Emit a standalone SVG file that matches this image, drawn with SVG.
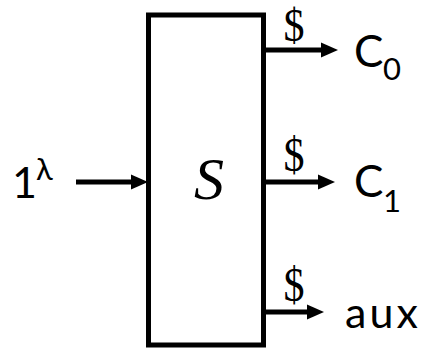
<svg xmlns="http://www.w3.org/2000/svg" width="426" height="349" viewBox="0 0 426 349">
<defs>
<style>
.lbl{font-family:Lato,"Noto Sans","DejaVu Sans",sans-serif;fill:#000}
.dol{font-family:"Liberation Serif","DejaVu Serif",serif;font-size:40px;fill:#000}
.edge{stroke:#000;stroke-width:5;fill:none}
</style>
<marker id="ah" markerUnits="userSpaceOnUse" markerWidth="17" markerHeight="16" viewBox="0 0 17 16" refX="8" refY="8" orient="auto">
<path d="M0,0.5 L17,8 L0,15.5 z" fill="#000"/>
</marker>
</defs>
<rect width="426" height="349" fill="#fff"/>
<g id="S">
<rect x="148.5" y="15" width="115" height="330" fill="#fff" stroke="#000" stroke-width="5"/>
<text x="209" y="199" text-anchor="middle" font-family="'Liberation Serif','DejaVu Serif',serif" font-style="italic" font-size="60">S</text>
</g>
<g id="input">
<text class="lbl" x="12" y="198" font-size="43">1</text>
<text class="lbl" x="36" y="180" font-size="31" font-family="'Noto Sans',sans-serif">λ</text>
</g>
<g id="c0">
<text class="lbl" x="354" y="67" font-size="44">C</text>
<text class="lbl" x="383" y="80" font-size="31">0</text>
</g>
<g id="c1">
<text class="lbl" x="354" y="197" font-size="44">C</text>
<text class="lbl" x="383" y="212" font-size="31">1</text>
</g>
<g id="aux">
<text class="lbl" x="345" y="328" font-size="43" textLength="73" lengthAdjust="spacing">aux</text>
</g>
<g id="connectors">
<line class="edge" x1="76" y1="182" x2="139" y2="182" marker-end="url(#ah)"/>
<line class="edge" x1="265" y1="50" x2="329" y2="50" marker-end="url(#ah)"/>
<line class="edge" x1="265" y1="182" x2="326" y2="182" marker-end="url(#ah)"/>
<line class="edge" x1="265" y1="312" x2="315" y2="312" marker-end="url(#ah)"/>
<text class="dol" transform="translate(294,41) scale(1.05,1.15)" text-anchor="middle">$</text>
<text class="dol" transform="translate(294,171) scale(1.05,1.2)" text-anchor="middle">$</text>
<text class="dol" transform="translate(294,301) scale(1.05,1.2)" text-anchor="middle">$</text>
</g>
</svg>
